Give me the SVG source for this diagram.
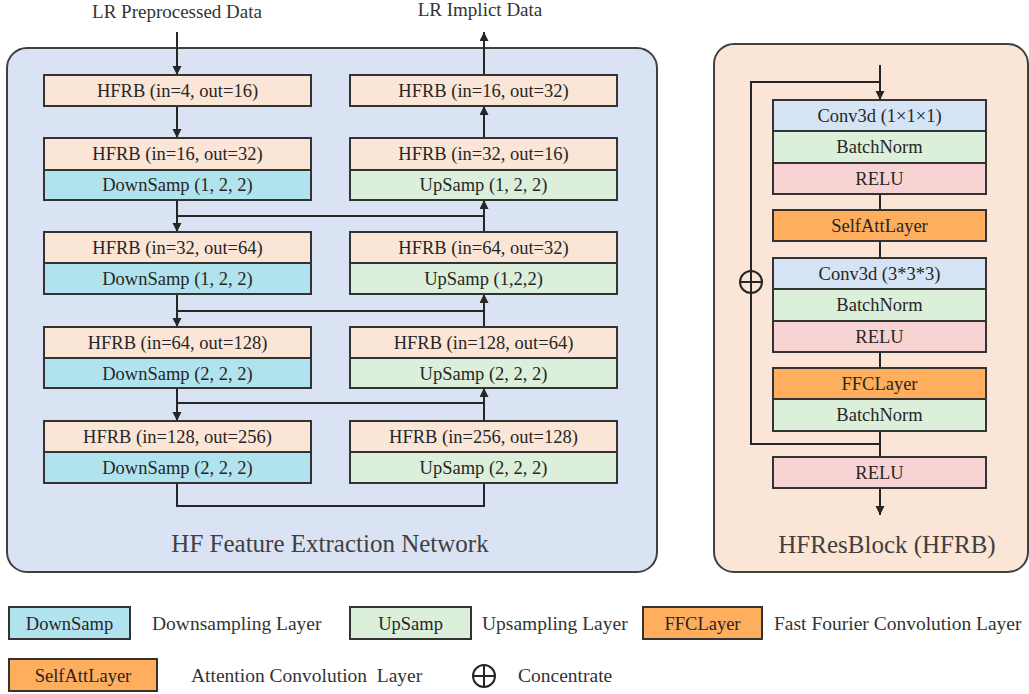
<svg xmlns="http://www.w3.org/2000/svg" width="1029" height="694" viewBox="0 0 1029 694">
<defs>
<marker id="ah" markerUnits="userSpaceOnUse" markerWidth="10" markerHeight="10" refX="9" refY="4.5" orient="auto">
<path d="M0,0 L9,4.5 L0,9 z" fill="#262626"/>
</marker>
</defs>
<style>
text{font-family:"Liberation Serif","Times New Roman",serif;fill:#262626;text-anchor:middle}
.t{font-size:18.5px}
.ti{font-size:19px;fill:#333}
.big{font-size:25px;fill:#404040}
.lg{font-size:19.5px;text-anchor:start;fill:#333}
.b{stroke:#333;stroke-width:2}
.hfrb{fill:#fbe5d6}
.down{fill:#b1e3ee}
.up{fill:#dcefdb}
.conv{fill:#d5e4f4}
.bn{fill:#dcefdb}
.relu{fill:#f8d3d3}
.or{fill:#ffae5e}
.c{fill:none;stroke:#262626;stroke-width:2}
</style>
<rect x="7" y="48" width="650" height="524" rx="20" fill="#dae3f3" stroke="#404040" stroke-width="2"/>
<rect x="714" y="44" width="314" height="528" rx="20" fill="#fbe5d6" stroke="#404040" stroke-width="2"/>
<text class="ti" x="177" y="18">LR Preprocessed Data</text>
<text class="ti" x="480" y="16">LR Implict Data</text>
<text class="big" x="330" y="552">HF Feature Extraction Network</text>
<text class="big" x="887" y="553">HFResBlock (HFRB)</text>
<g id="connectors">
<line class="c" x1="177" y1="32" x2="177" y2="75" marker-end="url(#ah)"/>
<line class="c" x1="177" y1="106" x2="177" y2="138" marker-end="url(#ah)"/>
<line class="c" x1="177" y1="200" x2="177" y2="232" marker-end="url(#ah)"/>
<line class="c" x1="177" y1="294" x2="177" y2="327" marker-end="url(#ah)"/>
<line class="c" x1="177" y1="388" x2="177" y2="421" marker-end="url(#ah)"/>
<line class="c" x1="484" y1="106" x2="484" y2="32" marker-end="url(#ah)"/>
<line class="c" x1="484" y1="138" x2="484" y2="106" marker-end="url(#ah)"/>
<line class="c" x1="484" y1="232" x2="484" y2="200" marker-end="url(#ah)"/>
<line class="c" x1="484" y1="327" x2="484" y2="294" marker-end="url(#ah)"/>
<line class="c" x1="484" y1="421" x2="484" y2="388" marker-end="url(#ah)"/>
<line class="c" x1="177" y1="216" x2="484" y2="216"/>
<line class="c" x1="177" y1="311" x2="484" y2="311"/>
<line class="c" x1="177" y1="403" x2="484" y2="403"/>
<polyline class="c" points="177,483 177,506 484,506 484,483"/>
<line class="c" x1="880" y1="65" x2="880" y2="100" marker-end="url(#ah)"/>
<polyline class="c" points="880,82 751,82 751,444 880,444"/>
<line class="c" x1="880" y1="194" x2="880" y2="210"/>
<line class="c" x1="880" y1="241" x2="880" y2="258"/>
<line class="c" x1="880" y1="352" x2="880" y2="368"/>
<line class="c" x1="880" y1="431" x2="880" y2="457"/>
<line class="c" x1="880" y1="488" x2="880" y2="515" marker-end="url(#ah)"/>
</g>
<g id="plus1">
<circle cx="751" cy="282" r="11" fill="none" stroke="#262626" stroke-width="2"/>
<line class="c" x1="740" y1="282" x2="762" y2="282"/>
</g>
<g id="L1"><rect class="b hfrb" x="44" y="75" width="267" height="31"/><text class="t" x="177.5" y="97">HFRB (in=4, out=16)</text></g>
<g id="L2"><rect class="b hfrb" x="44" y="138" width="267" height="32"/><rect class="b down" x="44" y="170" width="267" height="30"/><text class="t" x="177.5" y="160">HFRB (in=16, out=32)</text><text class="t" x="177.5" y="191">DownSamp (1, 2, 2)</text></g>
<g id="L3"><rect class="b hfrb" x="44" y="232" width="267" height="31"/><rect class="b down" x="44" y="263" width="267" height="31"/><text class="t" x="177.5" y="254">HFRB (in=32, out=64)</text><text class="t" x="177.5" y="285">DownSamp (1, 2, 2)</text></g>
<g id="L4"><rect class="b hfrb" x="44" y="327" width="267" height="31"/><rect class="b down" x="44" y="358" width="267" height="30"/><text class="t" x="177.5" y="349">HFRB (in=64, out=128)</text><text class="t" x="177.5" y="380">DownSamp (2, 2, 2)</text></g>
<g id="L5"><rect class="b hfrb" x="44" y="421" width="267" height="31"/><rect class="b down" x="44" y="452" width="267" height="31"/><text class="t" x="177.5" y="443">HFRB (in=128, out=256)</text><text class="t" x="177.5" y="474">DownSamp (2, 2, 2)</text></g>
<g id="R1"><rect class="b hfrb" x="350" y="75" width="267" height="31"/><text class="t" x="483.5" y="97">HFRB (in=16, out=32)</text></g>
<g id="R2"><rect class="b hfrb" x="350" y="138" width="267" height="32"/><rect class="b up" x="350" y="170" width="267" height="30"/><text class="t" x="483.5" y="160">HFRB (in=32, out=16)</text><text class="t" x="483.5" y="191">UpSamp (1, 2, 2)</text></g>
<g id="R3"><rect class="b hfrb" x="350" y="232" width="267" height="31"/><rect class="b up" x="350" y="263" width="267" height="31"/><text class="t" x="483.5" y="254">HFRB (in=64, out=32)</text><text class="t" x="483.5" y="285">UpSamp (1,2,2)</text></g>
<g id="R4"><rect class="b hfrb" x="350" y="327" width="267" height="31"/><rect class="b up" x="350" y="358" width="267" height="30"/><text class="t" x="483.5" y="349">HFRB (in=128, out=64)</text><text class="t" x="483.5" y="380">UpSamp (2, 2, 2)</text></g>
<g id="R5"><rect class="b hfrb" x="350" y="421" width="267" height="31"/><rect class="b up" x="350" y="452" width="267" height="31"/><text class="t" x="483.5" y="443">HFRB (in=256, out=128)</text><text class="t" x="483.5" y="474">UpSamp (2, 2, 2)</text></g>
<g id="B1">
<rect class="b conv" x="773" y="100" width="213" height="31"/><text class="t" x="879.5" y="122">Conv3d (1×1×1)</text>
<rect class="b bn" x="773" y="131" width="213" height="32"/><text class="t" x="879.5" y="153">BatchNorm</text>
<rect class="b relu" x="773" y="163" width="213" height="31"/><text class="t" x="879.5" y="185">RELU</text>
</g>
<g id="B2"><rect class="b or" x="773" y="210" width="213" height="31"/><text class="t" x="879.5" y="232">SelfAttLayer</text></g>
<g id="B3">
<rect class="b conv" x="773" y="258" width="213" height="31"/><text class="t" x="879.5" y="280">Conv3d (3*3*3)</text>
<rect class="b bn" x="773" y="289" width="213" height="32"/><text class="t" x="879.5" y="311">BatchNorm</text>
<rect class="b relu" x="773" y="321" width="213" height="31"/><text class="t" x="879.5" y="343">RELU</text>
</g>
<g id="B4">
<rect class="b or" x="773" y="368" width="213" height="31"/><text class="t" x="879.5" y="390">FFCLayer</text>
<rect class="b bn" x="773" y="399" width="213" height="32"/><text class="t" x="879.5" y="421">BatchNorm</text>
</g>
<g id="B5"><rect class="b relu" x="773" y="457" width="213" height="31"/><text class="t" x="879.5" y="479">RELU</text></g>
<g id="legend">
<rect class="b down" x="9" y="607" width="121" height="32"/><text class="t" x="69.5" y="630">DownSamp</text>
<text class="lg" x="152" y="630">Downsampling Layer</text>
<rect class="b up" x="350" y="607" width="121" height="32"/><text class="t" x="410.5" y="630">UpSamp</text>
<text class="lg" x="482" y="630">Upsampling Layer</text>
<rect class="b or" x="643" y="607" width="119" height="32"/><text class="t" x="702.5" y="630">FFCLayer</text>
<text class="lg" x="774" y="630">Fast Fourier Convolution Layer</text>
<rect class="b or" x="9" y="659" width="148" height="32"/><text class="t" x="83" y="682">SelfAttLayer</text>
<text class="lg" x="191" y="682" xml:space="preserve">Attention Convolution  Layer</text>
<circle cx="484" cy="676" r="11" fill="none" stroke="#262626" stroke-width="2"/>
<line class="c" x1="473" y1="676" x2="495" y2="676"/><line class="c" x1="484" y1="665" x2="484" y2="687"/>
<text class="lg" x="518" y="682">Concentrate</text>
</g>
</svg>
